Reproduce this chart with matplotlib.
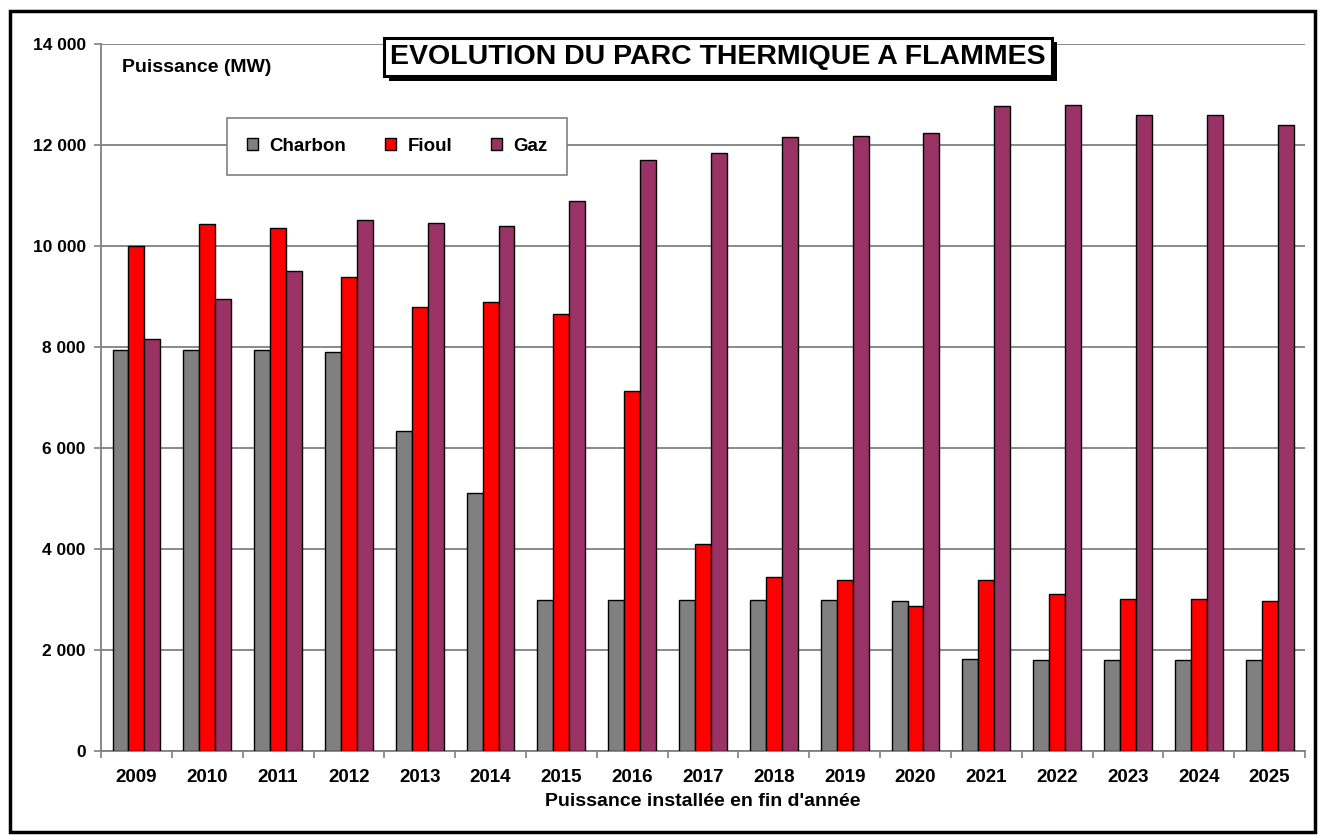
import matplotlib
matplotlib.use('Agg')
import matplotlib.pyplot as plt
import matplotlib.patheffects as pe
from matplotlib.ticker import FuncFormatter, FixedLocator
import numpy as np

# Data (MW, installed at end of year)
years = ['2009', '2010', '2011', '2012', '2013', '2014', '2015', '2016', '2017',
         '2018', '2019', '2020', '2021', '2022', '2023', '2024', '2025']
charbon = [7950, 7950, 7950, 7900, 6340, 5110, 3000, 3000, 3000,
           3000, 3000, 2970, 1830, 1810, 1810, 1810, 1810]
fioul = [10000, 10440, 10360, 9390, 8790, 8890, 8650, 7130, 4100,
         3450, 3390, 2870, 3380, 3110, 3010, 3010, 2970]
gaz = [8160, 8950, 9500, 10520, 10460, 10400, 10890, 11700, 11850,
       12150, 12180, 12230, 12770, 12790, 12600, 12600, 12400]

series_names = ['Charbon', 'Fioul', 'Gaz']
series_colors = ['#808080', '#FF0000', '#993366']


def main():
    plt.rcParams['font.family'] = ['Liberation Sans', 'DejaVu Sans']
    plt.rcParams['font.weight'] = 'bold'

    fig = plt.figure(figsize=(13.19, 8.35), dpi=100)
    ax = fig.add_axes([0.0766, 0.1006, 0.9128, 0.8467])

    x = np.arange(len(years))
    width = 0.225
    for i, (vals, name, col) in enumerate(zip([charbon, fioul, gaz], series_names, series_colors)):
        ax.bar(x + (i - 1) * width, vals, width, color=col, edgecolor='black',
               linewidth=1.0, label=name, zorder=3)

    ax.set_xlim(-0.5, len(years) - 0.5)
    ax.set_ylim(0, 14000)
    ax.set_yticks(np.arange(0, 14001, 2000))
    ax.yaxis.set_major_formatter(FuncFormatter(lambda v, p: '{:,}'.format(int(v)).replace(',', ' ')))
    ax.yaxis.grid(True, color='#808080', linewidth=1.3, zorder=0)
    ax.tick_params(axis='y', labelsize=12.5, length=5, color='#808080', width=1.2, pad=6)

    ax.set_xticks(x)
    ax.set_xticklabels(years, fontsize=13.5, fontweight='bold')
    ax.tick_params(axis='x', which='major', length=0, pad=13)
    ax.xaxis.set_minor_locator(FixedLocator(np.arange(-0.5, len(years), 1.0)))
    ax.tick_params(axis='x', which='minor', length=5, color='#808080', width=1.2)

    for side in ['top', 'right']:
        ax.spines[side].set_visible(False)
    for side in ['left', 'bottom']:
        ax.spines[side].set_color('#808080')
        ax.spines[side].set_linewidth(1.3)

    ax.set_xlabel("Puissance installée en fin d'année", fontsize=14, fontweight='bold', labelpad=5)

    ax.text(0.017, 0.967, 'Puissance (MW)', transform=ax.transAxes, fontsize=14,
            fontweight='bold', ha='left', va='center')

    leg = ax.legend(loc='center', bbox_to_anchor=(0.097, 0.813, 0.298, 0.084), mode='expand',
                    ncol=3, fontsize=13.5, frameon=True, fancybox=False, framealpha=1,
                    edgecolor='#808080', handlelength=0.6, handleheight=0.6,
                    handletextpad=0.6, borderpad=1.05, columnspacing=1.6)
    leg.get_frame().set_linewidth(1.2)
    for t in leg.get_texts():
        t.set_fontweight('bold')

    title = fig.text(0.5445, 0.932, 'EVOLUTION DU PARC THERMIQUE A FLAMMES', fontsize=20.5,
                     fontweight='bold', ha='center', va='center',
                     bbox=dict(boxstyle='square,pad=0.22', facecolor='white',
                               edgecolor='black', linewidth=2.2))
    title.get_bbox_patch().set_path_effects([
        pe.SimplePatchShadow(offset=(3.5, -3.5), shadow_rgbFace='black', alpha=1),
        pe.Normal()])
    title.set_zorder(10)

    # outer frame
    fig.patches.append(plt.Rectangle((0.0075, 0.003), 0.9895, 0.984, transform=fig.transFigure,
                                     fill=False, edgecolor='black', linewidth=2.5))

    plt.savefig('out.png', dpi=100)


if __name__ == '__main__':
    main()
